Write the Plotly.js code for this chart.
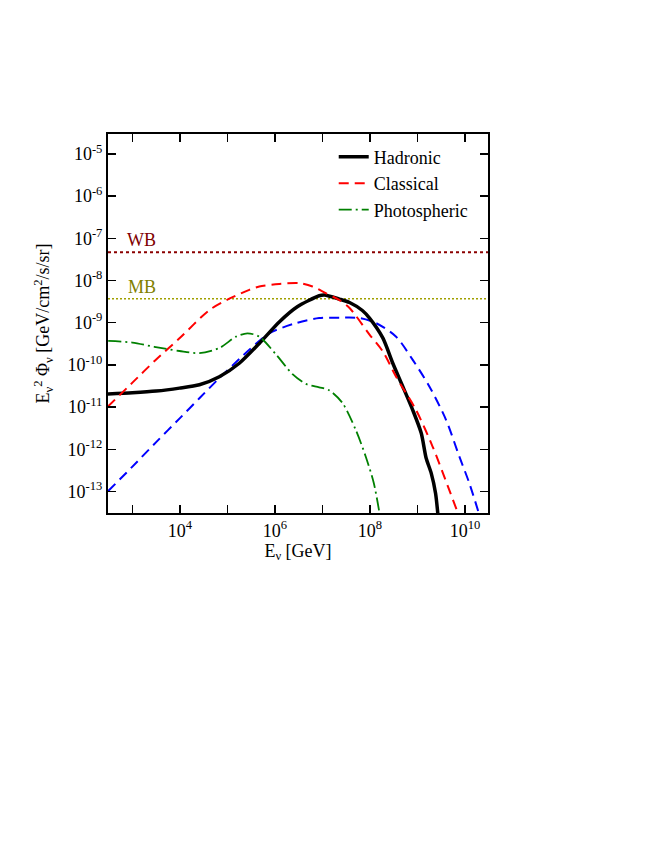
<!DOCTYPE html>
<html>
<head>
<meta charset="utf-8">
<script src="https://cdn.plot.ly/plotly-3.0.1.min.js"></script>
<style>html,body{margin:0;padding:0;background:#fff;} #chart{width:664px;height:860px;}</style>
</head>
<body>
<div id="chart"></div>
<script>
// log10(E/GeV) and log10(E^2 Phi)
var hadLogE  = [2.48, 3.0, 3.5, 3.99, 4.41, 4.83, 5.25, 5.67, 6.09, 6.47, 6.93, 7.04, 7.36, 7.57, 7.84, 7.99, 8.27, 8.48, 8.69, 8.90, 9.08, 9.18, 9.29, 9.38, 9.43];
var hadLogF  = [-10.69, -10.66, -10.62, -10.55, -10.47, -10.28, -9.96, -9.49, -8.98, -8.62, -8.36, -8.34, -8.44, -8.52, -8.71, -8.89, -9.36, -9.96, -10.51, -11.07, -11.62, -12.20, -12.57, -13.04, -13.55];

var clsLogE  = [2.48, 3.0, 3.5, 3.99, 4.62, 5.04, 5.46, 5.67, 6.09, 6.51, 6.79, 7.07, 7.35, 7.57, 7.99, 8.27, 8.55, 8.97, 9.32, 9.64, 9.85];
var clsLogF  = [-10.99, -10.42, -9.87, -9.37, -8.70, -8.43, -8.22, -8.14, -8.08, -8.06, -8.14, -8.30, -8.46, -8.65, -9.28, -9.68, -10.28, -11.07, -11.94, -12.88, -13.51];

var phoLogE  = [2.49, 3.0, 3.46, 3.99, 4.41, 4.83, 5.18, 5.42, 5.67, 6.02, 6.37, 6.65, 6.93, 7.14, 7.42, 7.70, 7.91, 8.08, 8.20];
var phoLogF  = [-9.43, -9.47, -9.57, -9.67, -9.72, -9.60, -9.33, -9.25, -9.33, -9.75, -10.22, -10.45, -10.53, -10.60, -10.90, -11.54, -12.17, -12.80, -13.51];

var bluLogE  = [2.49, 3.0, 3.5, 4.0, 4.41, 4.83, 5.25, 5.46, 5.88, 6.44, 6.93, 7.36, 7.78, 8.13, 8.55, 8.90, 9.25, 9.60, 9.88, 10.09, 10.29];
var bluLogF  = [-12.99, -12.41, -11.83, -11.26, -10.79, -10.31, -9.86, -9.64, -9.25, -9.01, -8.89, -8.88, -8.89, -9.01, -9.33, -9.88, -10.51, -11.30, -12.17, -12.80, -13.51];

var boundLogE = [2.486, 10.484];
var wbLogF = -7.33;
var mbLogF = -8.43;

var xTickExp = [3, 4, 5, 6, 7, 8, 9, 10];
var xTickText = ["", "10<sup>4</sup>", "", "10<sup>6</sup>", "", "10<sup>8</sup>", "", "10<sup>10</sup>"];
var yTickExp = [-13, -12, -11, -10, -9, -8, -7, -6, -5];
var yTickText = ["10<sup>-13</sup>", "10<sup>-12</sup>", "10<sup>-11</sup>", "10<sup>-10</sup>", "10<sup>-9</sup>", "10<sup>-8</sup>", "10<sup>-7</sup>", "10<sup>-6</sup>", "10<sup>-5</sup>"];

function p10(a){ return a.map(function(v){ return Math.pow(10, v); }); }

var FONT = "'Liberation Serif', 'Times New Roman', serif";

var traces = [
  {x: p10(boundLogE), y: [Math.pow(10, wbLogF), Math.pow(10, wbLogF)], mode: 'lines', showlegend: false,
   line: {color: '#8b0000', width: 2, dash: '3px,3px'}, hoverinfo: 'skip'},
  {x: p10(boundLogE), y: [Math.pow(10, mbLogF), Math.pow(10, mbLogF)], mode: 'lines', showlegend: false,
   line: {color: '#a0a000', width: 1.5, dash: '2px,2px'}, hoverinfo: 'skip'},
  {x: p10(bluLogE), y: p10(bluLogF), mode: 'lines', showlegend: false, line: {color: '#0000ff', width: 2, dash: '10px,6px', shape: 'spline', smoothing: 0.8}},
  {x: p10(hadLogE), y: p10(hadLogF), mode: 'lines', name: 'Hadronic', line: {color: '#000000', width: 3.5, shape: 'spline', smoothing: 0.7}},
  {x: p10(clsLogE), y: p10(clsLogF), mode: 'lines', name: 'Classical', line: {color: '#ff0000', width: 2, dash: '10px,6px', shape: 'spline', smoothing: 0.8}},
  {x: p10(phoLogE), y: p10(phoLogF), mode: 'lines', name: 'Photospheric', line: {color: '#008000', width: 1.8, dash: '13px,4px,2px,4px', shape: 'spline', smoothing: 0.8}}
];

var layout = {
  width: 664, height: 860,
  margin: {l: 108, r: 176, t: 134, b: 347, pad: 0},
  paper_bgcolor: '#fff', plot_bgcolor: '#fff',
  font: {family: FONT, size: 18, color: '#000'},
  showlegend: true,
  legend: {x: 0.594, y: 0.988, xanchor: 'left', yanchor: 'top', bgcolor: 'rgba(0,0,0,0)',
           font: {family: FONT, size: 18}, tracegroupgap: 0},
  xaxis: {type: 'log', range: [boundLogE[0], boundLogE[1]], showgrid: false, zeroline: false,
          tickvals: p10(xTickExp), ticktext: xTickText, ticks: 'inside', ticklen: 8, tickwidth: 1.5,
          tickcolor: '#000', showline: true, linecolor: '#000', linewidth: 2, mirror: 'allticks',
          tickfont: {family: FONT, size: 18},
          title: {text: 'E<sub>ν</sub> [GeV]', font: {family: FONT, size: 18}, standoff: 0}},
  yaxis: {type: 'log', range: [-13.51, -4.526], showgrid: false, zeroline: false,
          tickvals: p10(yTickExp), ticktext: yTickText, ticks: 'inside', ticklen: 8, tickwidth: 1.5,
          tickcolor: '#000', showline: true, linecolor: '#000', linewidth: 2, mirror: 'allticks',
          tickfont: {family: FONT, size: 18},
          title: {text: 'E<sub>ν</sub><sup>2</sup> Φ<sub>ν</sub> [GeV/cm<sup>2</sup>/s/sr]', font: {family: FONT, size: 18}, standoff: 13}},
  annotations: [
    {x: 3.196, y: wbLogF, xref: 'x', yref: 'y', text: 'WB', showarrow: false, yanchor: 'bottom', yshift: 0,
     font: {family: FONT, size: 18, color: '#800000'}},
    {x: 3.196, y: mbLogF, xref: 'x', yref: 'y', text: 'MB', showarrow: false, yanchor: 'bottom', yshift: 0,
     font: {family: FONT, size: 18, color: '#808000'}}
  ]
};

Plotly.newPlot('chart', traces, layout, {displayModeBar: false, staticPlot: true});
</script>
</body>
</html>
